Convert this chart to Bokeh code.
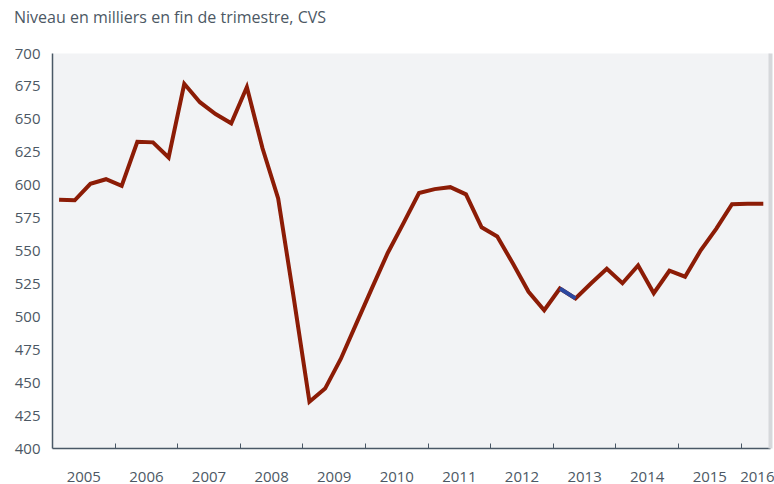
from bokeh.plotting import figure
from bokeh.models import FixedTicker, Range1d, ColumnDataSource, LinearAxis, Div
from bokeh.layouts import column
from bokeh.embed import file_html
from bokeh.resources import INLINE

# ---- data ----
quarters = [f"{y}T{q}" for y in range(2005, 2017) for q in range(1, 5)][:46]
values = [589, 588.5, 601, 604.5, 599.5, 633, 632.5, 621,
          677, 663, 654, 647, 674.5, 628, 590, 514,
          435.5, 445.5, 468, 495, 522, 548.5, 571, 594,
          597, 598.5, 593, 568, 561, 540.5, 519, 505,
          521.5, 514, 525.5, 536.5, 525.5, 539, 518, 535,
          530.5, 550.5, 567, 585.5, 585.8, 585.8]
highlight = (32, 33)  # quarters drawn in blue
year_labels = [str(y) for y in range(2005, 2017)]
y_ticks = list(range(400, 701, 25))
title_text = "Niveau en milliers en fin de trimestre, CVS"

RED = "#8C1C06"
BLUE = "#2B48A0"
TXT = "#4C5864"
AXC = "#4A5866"
FONT = "Open Sans"

def qpos(s):
    return int(s[:4]) + (int(s[-1]) - 1) * 0.25 + 0.105

xs = [qpos(s) for s in quarters]

header = Div(text=title_text, width=774, height=34, margin=(0, 0, 0, 0),
             styles={"font-family": FONT, "font-size": "16px", "color": TXT,
                     "padding-left": "14px", "line-height": "34px",
                     "white-space": "nowrap"})

p = figure(width=774, height=450, output_backend="svg", toolbar_location=None,
           x_range=Range1d(2005.0, 2016.47), y_range=Range1d(400, 700),
           min_border_left=52, min_border_right=4, min_border_top=19,
           min_border_bottom=35, margin=(0, 0, 0, 0))
p.background_fill_color = "#F2F3F5"
p.border_fill_color = "white"
p.outline_line_color = None
p.grid.grid_line_color = None

src = ColumnDataSource(data=dict(x=xs, y=values))
p.line("x", "y", source=src, line_color=RED, line_width=4, line_join="miter")
hx = xs[highlight[0]:highlight[1] + 1]
hy = values[highlight[0]:highlight[1] + 1]
p.line(hx, hy, line_color=BLUE, line_width=4)

# x axis: labels centred in years, minor ticks at year boundaries
label_pos = [int(y) + 0.5 for y in year_labels[:-1]] + [2016.3]
p.xaxis.ticker = FixedTicker(ticks=label_pos,
                             minor_ticks=[int(y) for y in year_labels[1:]])
p.xaxis.major_label_overrides = {pos: lab for pos, lab in zip(label_pos, year_labels)}
p.xaxis.minor_tick_in = 5
p.xaxis.minor_tick_out = 0
p.xaxis.minor_tick_line_color = AXC
p.xaxis.major_label_standoff = 17

p.yaxis.ticker = FixedTicker(ticks=y_ticks)
p.yaxis.major_tick_in = 5
p.yaxis.major_tick_out = 0
p.yaxis.minor_tick_line_color = None
p.yaxis.major_label_standoff = 12

for ax in (p.xaxis, p.yaxis):
    ax.axis_line_color = AXC
    ax.axis_line_width = 1.5
    ax.major_tick_line_color = AXC if ax is p.yaxis else None
    ax.major_label_text_font = FONT
    ax.major_label_text_font_size = "15px"
    ax.major_label_text_color = TXT

# light shadow band on the right edge of the panel
shadow = LinearAxis(major_tick_line_color=None, minor_tick_line_color=None,
                    major_label_text_font_size="0px", axis_line_color="#D6D8DB",
                    axis_line_width=4, major_label_standoff=0)
shadow.ticker = FixedTicker(ticks=[])
p.add_layout(shadow, "right")

layout = column(header, p, spacing=0, margin=(0, 0, 0, 0))
open("out.html", "w").write(file_html(layout, INLINE))
